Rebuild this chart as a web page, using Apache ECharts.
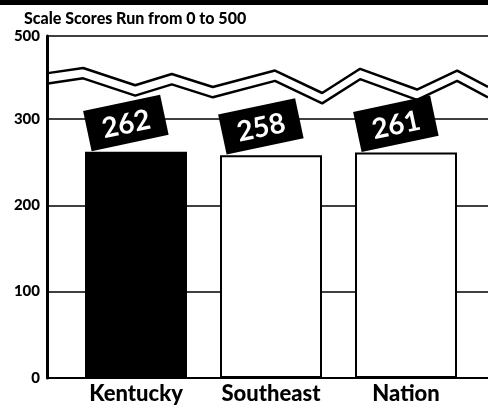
<!DOCTYPE html>
<html>
<head>
<meta charset="utf-8">
<script src="https://cdn.jsdelivr.net/npm/echarts@6/dist/echarts.min.js"></script>
<style>
  html, body { margin: 0; padding: 0; background: #fff; }
  #chart { width: 488px; height: 408px; }
</style>
</head>
<body>
<div id="chart"></div>
<script>
  // data
  var regions = ['Kentucky', 'Southeast', 'Nation'];
  var scores = [262, 258, 261];
  var barColors = ['#000', '#fff', '#fff'];
  // axis is broken above 300, top line stands for 500
  var axisTop = 396;
  var axisTopLabel = '500';
  // zigzag break lines, [fraction across plot, value]
  var breakUpper = [[0.002, 353], [0.082, 359], [0.2, 339], [0.283, 352], [0.376, 337], [0.517, 356], [0.624, 330], [0.71, 358], [0.839, 334], [0.93, 356], [1, 337]];
  var breakLower = [[0.002, 341], [0.082, 347], [0.2, 327], [0.283, 340], [0.376, 325], [0.517, 344], [0.624, 318], [0.71, 346], [0.839, 322], [0.93, 344], [1, 325]];

  var font = 'Lato, "Open Sans", sans-serif';
  var chart = echarts.init(document.getElementById('chart'));

  var barData = [];
  for (var i = 0; i < scores.length; i++) {
    barData.push({
      value: scores[i],
      itemStyle: { color: barColors[i], borderColor: '#000', borderWidth: 2 }
    });
  }

  var option = {
    animation: false,
    title: {
      text: 'Scale Scores Run from 0 to 500',
      left: 19,
      top: 6,
      textStyle: { fontFamily: font, fontWeight: 900, fontSize: 16, color: '#000' }
    },
    graphic: [
      { type: 'rect', left: 0, top: 0, shape: { width: 488, height: 5 }, style: { fill: '#000' } }
    ],
    grid: [
      { left: 68.5, right: 14.5, top: 36, bottom: 30 },
      { left: 47, right: 0, top: 36, bottom: 30 }
    ],
    xAxis: [
      {
        type: 'category', gridIndex: 0, data: regions,
        axisLine: { show: false }, axisTick: { show: false },
        axisLabel: { fontFamily: font, fontWeight: 900, fontSize: 22, color: '#000', margin: 5 }
      },
      {
        type: 'value', gridIndex: 1, min: 0, max: 1,
        axisLine: { show: true, lineStyle: { color: '#000', width: 2 } },
        axisTick: { show: false }, axisLabel: { show: false }, splitLine: { show: false }
      }
    ],
    yAxis: [
      { type: 'value', gridIndex: 0, min: 0, max: axisTop, show: false },
      {
        type: 'value', gridIndex: 1, min: 0, max: axisTop, interval: 100,
        axisLine: { show: true, lineStyle: { color: '#000', width: 3 } },
        axisTick: { show: false },
        axisLabel: {
          fontFamily: font, fontWeight: 900, fontSize: 15, color: '#000', margin: 7,
          formatter: function (v) { return v === axisTop ? axisTopLabel : String(v); }
        },
        splitLine: { show: true, lineStyle: { color: '#000', width: 1.5 } }
      }
    ],
    series: [
      {
        type: 'bar', xAxisIndex: 0, yAxisIndex: 0, data: barData, barWidth: 102, z: 3,
        label: {
          show: true, position: 'top', distance: 10, rotate: 12, offset: [-6, 0],
          color: '#fff', backgroundColor: '#000', fontFamily: font, fontWeight: 'bold',
          fontSize: 28, padding: [8, 15, 5, 15]
        }
      },
      {
        type: 'line', xAxisIndex: 1, yAxisIndex: 1, data: breakUpper, symbol: 'none',
        lineStyle: { color: '#000', width: 2.5 }, z: 4
      },
      {
        type: 'line', xAxisIndex: 1, yAxisIndex: 1, data: breakLower, symbol: 'none',
        lineStyle: { color: '#000', width: 2.5 }, z: 4
      }
    ]
  };
  chart.setOption(option);
</script>
</body>
</html>
